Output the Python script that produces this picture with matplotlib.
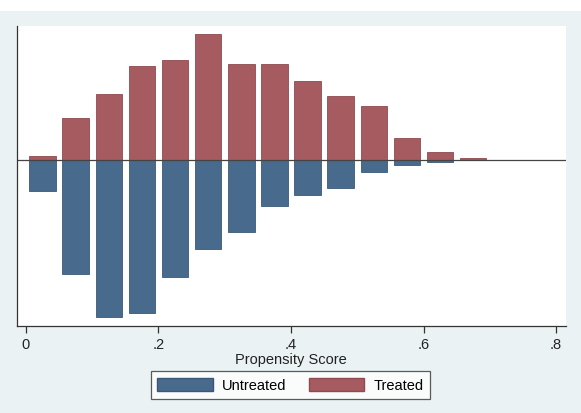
import numpy as np
import matplotlib.pyplot as plt
from matplotlib.patches import Patch, Rectangle

# bin midpoints of the propensity score (bin width .05)
bin_mid = [0.025, 0.075, 0.125, 0.175, 0.225, 0.275, 0.325,
           0.375, 0.425, 0.475, 0.525, 0.575, 0.625, 0.675]

# bar heights (arbitrary units, no y labels shown)
treated = [4.6, 42.3, 66.3, 94.6, 100.6, 126.0, 96.0,
           96.0, 79.0, 64.0, 54.0, 22.0, 8.3, 2.3]
untreated = [30.4, 114.0, 156.7, 152.7, 116.4, 88.7, 71.4,
             45.7, 34.5, 27.4, 11.4, 4.7, 2.0, 0.0]

xticks = [0, 0.2, 0.4, 0.6, 0.8]
xtick_labels = ["0", ".2", ".4", ".6", ".8"]

bg = "#EAF2F3"
col_untr = "#486A8C"
col_tr = "#A65B61"

plt.rcParams['font.family'] = ['Liberation Sans', 'DejaVu Sans']

fig = plt.figure(figsize=(5.81, 4.14), dpi=100, facecolor=bg)
# white strip at the very top (page above the graph)
fig.patches.append(Rectangle((0, 1 - 12 / 414), 1, 12 / 414, transform=fig.transFigure,
                             facecolor="white", edgecolor="none", zorder=0))

ax = fig.add_axes([16.7 / 581, 1 - 326.7 / 414, 549 / 581, 300 / 414])
ax.set_facecolor("white")

ax.bar(bin_mid, treated, width=0.04, color=col_tr, edgecolor="#8E4A50", linewidth=0.6)
ax.bar(bin_mid, [-u for u in untreated], width=0.04, color=col_untr, edgecolor="#3A5876", linewidth=0.6)
ax.axhline(0, color="#444444", linewidth=0.9)

ax.set_xlim(-0.014, 0.8146)
ax.set_ylim(-165.4, 134.6)

for s in ["top", "right"]:
    ax.spines[s].set_visible(False)
for s in ["left", "bottom"]:
    ax.spines[s].set_color("#333333")
    ax.spines[s].set_linewidth(0.9)

ax.set_yticks([])
ax.set_xticks(xticks)
ax.set_xticklabels(xtick_labels, fontsize=10.5)
ax.tick_params(axis="x", length=5, width=0.9, color="#333333", pad=3, labelcolor="#222222")
ax.set_xlabel("Propensity Score", fontsize=10.5, color="#222222", labelpad=1)

handles = [Patch(facecolor=col_untr, edgecolor="#3A5876", label="Untreated"),
           Patch(facecolor=col_tr, edgecolor="#8E4A50", label="Treated")]
leg = fig.legend(handles=handles, loc="center", bbox_to_anchor=(290.5 / 581, 1 - 386 / 414),
                 ncol=2, fontsize=10.5, frameon=True, fancybox=False, handlelength=3.8,
                 handleheight=1.0, handletextpad=0.65, columnspacing=1.5, borderpad=0.45)
leg.get_frame().set_edgecolor("#333333")
leg.get_frame().set_linewidth(0.9)

fig.savefig("out.png", dpi=100, facecolor=bg)
